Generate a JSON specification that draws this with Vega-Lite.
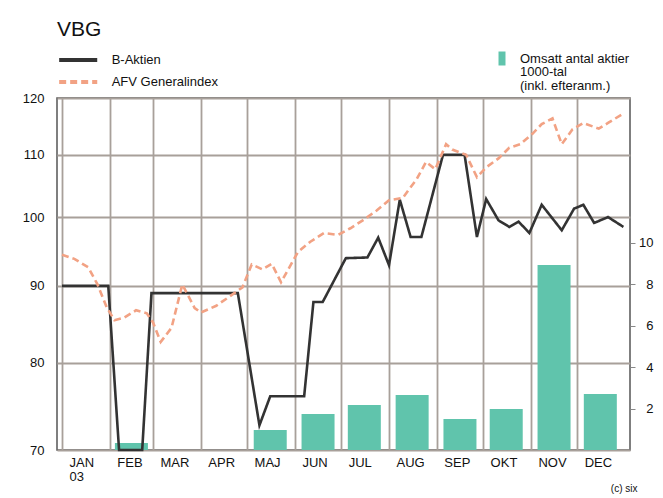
{
  "$schema": "https://vega.github.io/schema/vega-lite/v6.json",
  "width": 573,
  "height": 352,
  "autosize": {"type": "none"},
  "padding": {"left": 57, "top": 98, "right": 33, "bottom": 48},
  "background": "white",
  "title": {"text": "VBG", "anchor": "start", "frame": "group", "fontSize": 21, "fontWeight": "normal", "font": "Liberation Sans", "color": "#111111", "offset": 12},
  "config": {
    "font": "Liberation Sans",
    "view": {"stroke": "#555555", "strokeWidth": 1.5},
    "axis": {"labelFont": "Liberation Sans", "labelFontSize": 13, "labelColor": "#111111", "domain": false, "ticks": false, "gridColor": "#a8a09a", "gridWidth": 1.8, "gridOpacity": 1},
    "legend": {"labelFont": "Liberation Sans", "labelFontSize": 13, "labelFontWeight": "normal", "labelColor": "#111111", "padding": 0}
  },
  "datasets": {
    "bars": [
      {"date": "2003-01-16", "vol": 0, "serie": "Omsatt antal aktier|1000-tal|(inkl. efteranm.)"},
      {"date": "2003-02-15", "vol": 0.34, "serie": "Omsatt antal aktier|1000-tal|(inkl. efteranm.)"},
      {"date": "2003-03-16", "vol": 0, "serie": "Omsatt antal aktier|1000-tal|(inkl. efteranm.)"},
      {"date": "2003-04-16", "vol": 0, "serie": "Omsatt antal aktier|1000-tal|(inkl. efteranm.)"},
      {"date": "2003-05-16", "vol": 0.97, "serie": "Omsatt antal aktier|1000-tal|(inkl. efteranm.)"},
      {"date": "2003-06-16", "vol": 1.74, "serie": "Omsatt antal aktier|1000-tal|(inkl. efteranm.)"},
      {"date": "2003-07-16", "vol": 2.17, "serie": "Omsatt antal aktier|1000-tal|(inkl. efteranm.)"},
      {"date": "2003-08-16", "vol": 2.66, "serie": "Omsatt antal aktier|1000-tal|(inkl. efteranm.)"},
      {"date": "2003-09-16", "vol": 1.5, "serie": "Omsatt antal aktier|1000-tal|(inkl. efteranm.)"},
      {"date": "2003-10-16", "vol": 1.98, "serie": "Omsatt antal aktier|1000-tal|(inkl. efteranm.)"},
      {"date": "2003-11-16", "vol": 8.94, "serie": "Omsatt antal aktier|1000-tal|(inkl. efteranm.)"},
      {"date": "2003-12-16", "vol": 2.71, "serie": "Omsatt antal aktier|1000-tal|(inkl. efteranm.)"}
    ],
    "lines": [
      {"date": "2003-01-01", "serie": "B-Aktien", "value": 90},
      {"date": "2003-01-31", "serie": "B-Aktien", "value": 90},
      {"date": "2003-02-07", "serie": "B-Aktien", "value": 70},
      {"date": "2003-02-22", "serie": "B-Aktien", "value": 70},
      {"date": "2003-02-28", "serie": "B-Aktien", "value": 89},
      {"date": "2003-04-25", "serie": "B-Aktien", "value": 89},
      {"date": "2003-05-09", "serie": "B-Aktien", "value": 72.7},
      {"date": "2003-05-16", "serie": "B-Aktien", "value": 76},
      {"date": "2003-06-07", "serie": "B-Aktien", "value": 76},
      {"date": "2003-06-13", "serie": "B-Aktien", "value": 87.8},
      {"date": "2003-06-19", "serie": "B-Aktien", "value": 87.8},
      {"date": "2003-07-04", "serie": "B-Aktien", "value": 93.9},
      {"date": "2003-07-18", "serie": "B-Aktien", "value": 94},
      {"date": "2003-07-25", "serie": "B-Aktien", "value": 96.9},
      {"date": "2003-08-01", "serie": "B-Aktien", "value": 92.9},
      {"date": "2003-08-08", "serie": "B-Aktien", "value": 102.7},
      {"date": "2003-08-15", "serie": "B-Aktien", "value": 97},
      {"date": "2003-08-22", "serie": "B-Aktien", "value": 97},
      {"date": "2003-09-05", "serie": "B-Aktien", "value": 110},
      {"date": "2003-09-19", "serie": "B-Aktien", "value": 110},
      {"date": "2003-09-27", "serie": "B-Aktien", "value": 97},
      {"date": "2003-10-03", "serie": "B-Aktien", "value": 102.8},
      {"date": "2003-10-11", "serie": "B-Aktien", "value": 99.5},
      {"date": "2003-10-18", "serie": "B-Aktien", "value": 98.5},
      {"date": "2003-10-24", "serie": "B-Aktien", "value": 99.3},
      {"date": "2003-10-31", "serie": "B-Aktien", "value": 97.6},
      {"date": "2003-11-08", "serie": "B-Aktien", "value": 101.9},
      {"date": "2003-11-21", "serie": "B-Aktien", "value": 98},
      {"date": "2003-11-29", "serie": "B-Aktien", "value": 101.3},
      {"date": "2003-12-05", "serie": "B-Aktien", "value": 101.9},
      {"date": "2003-12-12", "serie": "B-Aktien", "value": 99.1},
      {"date": "2003-12-21", "serie": "B-Aktien", "value": 100},
      {"date": "2003-12-31", "serie": "B-Aktien", "value": 98.5},
      {"date": "2003-01-01", "serie": "AFV Generalindex", "value": 94.4},
      {"date": "2003-01-09", "serie": "AFV Generalindex", "value": 93.8},
      {"date": "2003-01-18", "serie": "AFV Generalindex", "value": 92.6},
      {"date": "2003-01-24", "serie": "AFV Generalindex", "value": 90.2},
      {"date": "2003-01-30", "serie": "AFV Generalindex", "value": 87.1},
      {"date": "2003-02-04", "serie": "AFV Generalindex", "value": 85.4},
      {"date": "2003-02-10", "serie": "AFV Generalindex", "value": 85.7},
      {"date": "2003-02-18", "serie": "AFV Generalindex", "value": 86.7},
      {"date": "2003-02-25", "serie": "AFV Generalindex", "value": 86.3},
      {"date": "2003-03-01", "serie": "AFV Generalindex", "value": 85.1},
      {"date": "2003-03-06", "serie": "AFV Generalindex", "value": 82.6},
      {"date": "2003-03-13", "serie": "AFV Generalindex", "value": 84.4},
      {"date": "2003-03-20", "serie": "AFV Generalindex", "value": 90.2},
      {"date": "2003-03-28", "serie": "AFV Generalindex", "value": 87.0},
      {"date": "2003-04-01", "serie": "AFV Generalindex", "value": 86.4},
      {"date": "2003-04-11", "serie": "AFV Generalindex", "value": 87.3},
      {"date": "2003-04-20", "serie": "AFV Generalindex", "value": 88.6},
      {"date": "2003-04-28", "serie": "AFV Generalindex", "value": 89.8},
      {"date": "2003-05-04", "serie": "AFV Generalindex", "value": 93.0},
      {"date": "2003-05-11", "serie": "AFV Generalindex", "value": 92.3},
      {"date": "2003-05-17", "serie": "AFV Generalindex", "value": 93.1},
      {"date": "2003-05-23", "serie": "AFV Generalindex", "value": 90.5},
      {"date": "2003-06-03", "serie": "AFV Generalindex", "value": 94.8},
      {"date": "2003-06-11", "serie": "AFV Generalindex", "value": 96.3},
      {"date": "2003-06-20", "serie": "AFV Generalindex", "value": 97.6},
      {"date": "2003-06-29", "serie": "AFV Generalindex", "value": 97.3},
      {"date": "2003-07-07", "serie": "AFV Generalindex", "value": 98.3},
      {"date": "2003-07-15", "serie": "AFV Generalindex", "value": 99.5},
      {"date": "2003-07-24", "serie": "AFV Generalindex", "value": 101},
      {"date": "2003-08-01", "serie": "AFV Generalindex", "value": 102.6},
      {"date": "2003-08-10", "serie": "AFV Generalindex", "value": 103},
      {"date": "2003-08-19", "serie": "AFV Generalindex", "value": 106},
      {"date": "2003-08-25", "serie": "AFV Generalindex", "value": 108.8},
      {"date": "2003-08-31", "serie": "AFV Generalindex", "value": 107.6},
      {"date": "2003-09-07", "serie": "AFV Generalindex", "value": 111.8},
      {"date": "2003-09-11", "serie": "AFV Generalindex", "value": 110.9},
      {"date": "2003-09-20", "serie": "AFV Generalindex", "value": 110},
      {"date": "2003-09-27", "serie": "AFV Generalindex", "value": 106.3},
      {"date": "2003-10-03", "serie": "AFV Generalindex", "value": 107.9},
      {"date": "2003-10-11", "serie": "AFV Generalindex", "value": 109.4},
      {"date": "2003-10-18", "serie": "AFV Generalindex", "value": 111.2},
      {"date": "2003-10-25", "serie": "AFV Generalindex", "value": 111.8},
      {"date": "2003-11-02", "serie": "AFV Generalindex", "value": 113.6},
      {"date": "2003-11-08", "serie": "AFV Generalindex", "value": 115.3},
      {"date": "2003-11-15", "serie": "AFV Generalindex", "value": 116.3},
      {"date": "2003-11-21", "serie": "AFV Generalindex", "value": 111.8},
      {"date": "2003-11-28", "serie": "AFV Generalindex", "value": 114.4},
      {"date": "2003-12-05", "serie": "AFV Generalindex", "value": 115.5},
      {"date": "2003-12-15", "serie": "AFV Generalindex", "value": 114.5},
      {"date": "2003-12-21", "serie": "AFV Generalindex", "value": 115.5},
      {"date": "2003-12-31", "serie": "AFV Generalindex", "value": 117.2}
    ]
  },
  "encoding": {
    "x": {
      "field": "date", "type": "temporal",
      "scale": {"type": "utc", "domain": [{"year": 2003, "month": 1, "date": 1, "utc": true}, {"year": 2004, "month": 1, "date": 1, "utc": true}]},
      "axis": {
        "values": [
          {"year": 2003, "month": 1, "date": 1, "utc": true},
          {"year": 2003, "month": 2, "date": 1, "utc": true},
          {"year": 2003, "month": 3, "date": 1, "utc": true},
          {"year": 2003, "month": 4, "date": 1, "utc": true},
          {"year": 2003, "month": 5, "date": 1, "utc": true},
          {"year": 2003, "month": 6, "date": 1, "utc": true},
          {"year": 2003, "month": 7, "date": 1, "utc": true},
          {"year": 2003, "month": 8, "date": 1, "utc": true},
          {"year": 2003, "month": 9, "date": 1, "utc": true},
          {"year": 2003, "month": 10, "date": 1, "utc": true},
          {"year": 2003, "month": 11, "date": 1, "utc": true},
          {"year": 2003, "month": 12, "date": 1, "utc": true}
        ],
        "grid": true,
        "labelExpr": "[['JAN','03'],'FEB','MAR','APR','MAJ','JUN','JUL','AUG','SEP','OKT','NOV','DEC'][utcmonth(datum.value)]",
        "labelAlign": "left",
        "labelOffset": 7,
        "labelPadding": 6,
        "labelLineHeight": 14,
        "title": "(c) six",
        "titleX": 580,
        "titleY": 38,
        "titleAlign": "right",
        "titleBaseline": "middle",
        "titleFontSize": 10,
        "titleFontWeight": "normal",
        "titleColor": "#111111"
      }
    }
  },
  "layer": [
    {
      "data": {"name": "bars"},
      "mark": {"type": "bar", "size": 33},
      "encoding": {
        "y": {
          "field": "vol", "type": "quantitative",
          "scale": {"domain": [0, 17], "nice": false, "zero": true},
          "axis": {"orient": "right", "values": [2, 4, 6, 8, 10], "grid": false, "ticks": true, "tickSize": 5, "tickColor": "#888888", "labelAlign": "right", "labelPadding": 18, "title": null}
        },
        "color": {
          "field": "serie", "type": "nominal",
          "scale": {"domain": ["Omsatt antal aktier|1000-tal|(inkl. efteranm.)"], "range": ["#60c4ac"]},
          "legend": {"title": null, "orient": "none", "legendX": 438, "legendY": -46.5, "symbolType": "M-0.5,-1H0.5V1H-0.5Z", "symbolSize": 196, "symbolStrokeWidth": 0, "labelExpr": "split(datum.label,'|')", "labelOffset": 11, "labelLimit": 300, "encoding": {"labels": {"lineHeight": {"value": 13.5}}}}
        }
      }
    },
    {
      "data": {"name": "lines"},
      "mark": {"type": "line", "strokeWidth": 2.6},
      "encoding": {
        "y": {
          "field": "value", "type": "quantitative",
          "scale": {"type": "log", "domain": [70, 120], "nice": false},
          "axis": {"orient": "left", "values": [70, 80, 90, 100, 110, 120], "grid": true, "labelPadding": 13, "title": null}
        },
        "color": {
          "field": "serie", "type": "nominal", "sort": ["B-Aktien", "AFV Generalindex"],
          "scale": {"domain": ["B-Aktien", "AFV Generalindex"], "range": ["#333333", "#f2a284"]},
          "legend": {"title": null, "orient": "none", "legendX": 12.7, "legendY": -46.5, "symbolType": "M-3,0H3", "symbolSize": 161, "symbolStrokeWidth": 4, "labelOffset": 25, "rowPadding": 5, "labelFontWeight": "normal", "encoding": {"symbols": {"strokeDash": {"value": {"expr": "datum.value === 'B-Aktien' ? [1, 0] : [7, 4]"}}}}}
        },
        "strokeDash": {
          "field": "serie", "type": "nominal", "sort": ["B-Aktien", "AFV Generalindex"],
          "scale": {"domain": ["B-Aktien", "AFV Generalindex"], "range": [[1, 0], [7, 4]]},
          "legend": null
        }
      }
    }
  ],
  "resolve": {"scale": {"y": "independent", "color": "independent"}}
}
